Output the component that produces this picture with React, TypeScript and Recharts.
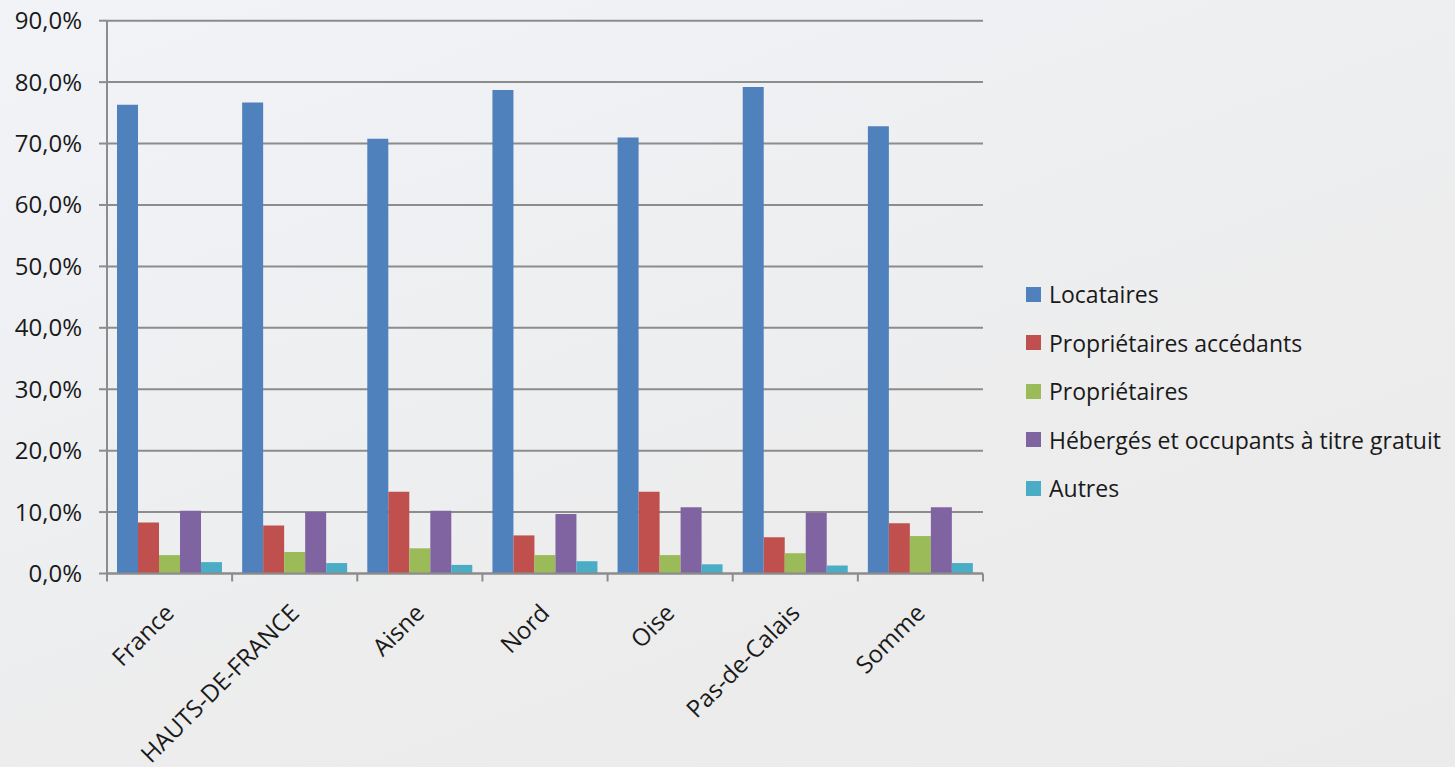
import React from 'react';
import { BarChart, Bar, XAxis, YAxis, CartesianGrid } from 'recharts';

// ---------------------------------------------------------------------------
// Data
// ---------------------------------------------------------------------------

const CATEGORIES = ['France', 'HAUTS-DE-FRANCE', 'Aisne', 'Nord', 'Oise', 'Pas-de-Calais', 'Somme'];

const LOCATAIRES = [76.3, 76.7, 70.8, 78.7, 71.0, 79.2, 72.8];
const PROP_ACCEDANTS = [8.3, 7.8, 13.3, 6.2, 13.3, 5.9, 8.2];
const PROPRIETAIRES = [3.0, 3.5, 4.1, 3.0, 3.0, 3.3, 6.1];
const HEBERGES = [10.2, 10.0, 10.2, 9.7, 10.8, 9.9, 10.8];
const AUTRES = [1.85, 1.7, 1.4, 2.0, 1.5, 1.3, 1.7];

const Y_TICKS = [0, 10, 20, 30, 40, 50, 60, 70, 80, 90];

const SERIES = [
  { key: 'locataires', name: 'Locataires', color: '#4f81bd', values: LOCATAIRES },
  { key: 'accedants', name: 'Propriétaires accédants', color: '#c0504d', values: PROP_ACCEDANTS },
  { key: 'proprietaires', name: 'Propriétaires', color: '#9bbb59', values: PROPRIETAIRES },
  { key: 'heberges', name: 'Hébergés et occupants à titre gratuit', color: '#8064a2', values: HEBERGES },
  { key: 'autres', name: 'Autres', color: '#4bacc6', values: AUTRES },
];

const chartData = CATEGORIES.map((name, i) => {
  const row: Record<string, string | number> = { name };
  SERIES.forEach((s) => {
    row[s.key] = s.values[i];
  });
  return row;
});

const FONT = '"Open Sans", "DejaVu Sans", sans-serif';
const GRID = '#8c8c8c';
const TEXT = '#1a1a1a';

// ---------------------------------------------------------------------------
// Custom x tick: rotated label + boundary tick marks
// ---------------------------------------------------------------------------

function XTick(props: any) {
  const { x, y, payload, index, visibleTicksCount } = props;
  const half = payload?.offset || 62.5;
  const last = index === (visibleTicksCount ?? CATEGORIES.length) - 1;
  const ax = x + 6;
  const ay = y + 33;
  return (
    <g>
      <line x1={x - half} y1={y - 8} x2={x - half} y2={y} stroke={GRID} strokeWidth={2} />
      {last && <line x1={x + half} y1={y - 8} x2={x + half} y2={y} stroke={GRID} strokeWidth={2} />}
      <text
        x={ax}
        y={ay}
        transform={`rotate(-45, ${ax}, ${ay})`}
        textAnchor="end"
        fill={TEXT}
        fontSize={24}
        fontFamily={FONT}
      >
        {payload.value}
      </text>
    </g>
  );
}

// ---------------------------------------------------------------------------
// Legend (plain HTML, placed to the right of the plot)
// ---------------------------------------------------------------------------

function ChartLegend() {
  return (
    <div
      style={{
        position: 'absolute',
        left: 1026,
        top: 270,
        fontFamily: FONT,
        fontSize: 23,
        color: TEXT,
      }}
    >
      {SERIES.map((s) => (
        <div key={s.key} style={{ display: 'flex', alignItems: 'center', height: 48.5, whiteSpace: 'nowrap' }}>
          <span style={{ display: 'inline-block', width: 15, height: 15, backgroundColor: s.color, marginRight: 8 }} />
          {s.name}
        </div>
      ))}
    </div>
  );
}

// ---------------------------------------------------------------------------
// App
// ---------------------------------------------------------------------------

export default function App() {
  return (
    <div
      style={{
        position: 'fixed',
        left: 0,
        top: 0,
        width: 1455,
        height: 767,
        background: 'linear-gradient(160deg, #f1f3f7 0%, #eeeff1 40%, #ececec 70%, #ebebeb 100%)',
      }}
    >
      <BarChart
        width={1455}
        height={767}
        data={chartData}
        margin={{ top: 20.7, right: 472, bottom: 0, left: 0 }}
        barCategoryGap="8%"
        barGap={0}
      >
        <CartesianGrid vertical={false} stroke={GRID} strokeWidth={2} />
        <XAxis
          dataKey="name"
          height={193.5}
          interval={0}
          axisLine={{ stroke: GRID, strokeWidth: 2 }}
          tickLine={false}
          tick={<XTick />}
        />
        <YAxis
          width={107}
          domain={[0, 90]}
          ticks={Y_TICKS}
          interval={0}
          tickFormatter={(v: number) => v.toFixed(1).replace('.', ',') + '%'}
          axisLine={{ stroke: GRID, strokeWidth: 2 }}
          tickLine={{ stroke: GRID, strokeWidth: 2 }}
          tickSize={8}
          tickMargin={17}
          tick={{ fill: TEXT, fontSize: 24, fontFamily: FONT }}
        />
        {SERIES.map((s) => (
          <Bar key={s.key} dataKey={s.key} name={s.name} fill={s.color} isAnimationActive={false} />
        ))}
      </BarChart>
      <ChartLegend />
    </div>
  );
}
